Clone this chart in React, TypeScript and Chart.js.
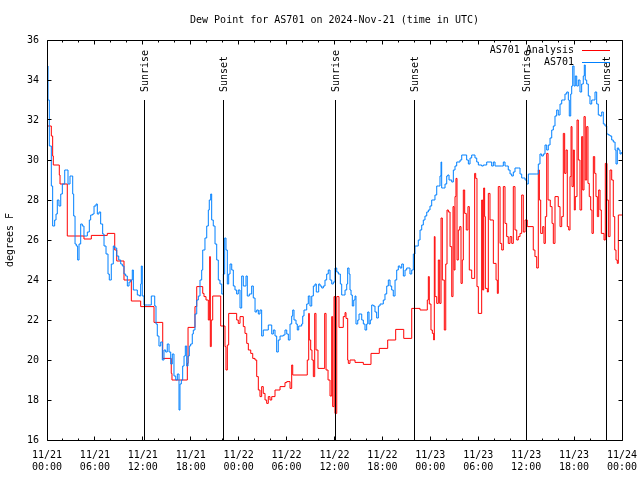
import React, { useEffect, useRef } from "react";
import { Chart, registerables } from "chart.js";

Chart.register(...registerables);

const FONT_FAMILY = '"DejaVu Sans Mono", "Liberation Mono", monospace';

const titleText = "Dew Point for AS701 on 2024-Nov-21 (time in UTC)";
const yAxisTitle = "degrees F";
const seriesLabels = ["AS701 Analysis", "AS701"];
const seriesColors = ["#ff0000", "#0080ff"];

const xTickDates = ["11/21", "11/21", "11/21", "11/21", "11/22", "11/22", "11/22", "11/22", "11/23", "11/23", "11/23", "11/23", "11/24"];
const xTickTimes = ["00:00", "06:00", "12:00", "18:00", "00:00", "06:00", "12:00", "18:00", "00:00", "06:00", "12:00", "18:00", "00:00"];
const yTickValues = [16, 18, 20, 22, 24, 26, 28, 30, 32, 34, 36];

// hours since 2024-11-21 00:00 UTC
const sunHours = [12.18, 22.06, 36.1, 46.0, 60.1, 70.04];
const sunLabels = ["Sunrise", "Sunset", "Sunrise", "Sunset", "Sunrise", "Sunset"];

// AS701 observations (hours since start, deg F)
const blueHours = [
  0.0, 0.13, 0.29, 0.54, 0.71, 0.96, 1.13, 1.29, 1.5, 1.72,
  1.92, 2.22, 2.47, 2.63, 2.88, 3.04, 3.22, 3.34, 3.51, 3.67,
  3.84, 4.01, 4.22, 4.42, 4.63, 4.88, 5.05, 5.3, 5.47, 5.72,
  5.89, 6.14, 6.3, 6.51, 6.72, 6.97, 7.14, 7.39, 7.64, 7.8,
  8.05, 8.3, 8.48, 8.73, 8.98, 9.23, 9.43, 9.64, 9.85, 10.06,
  10.27, 10.48, 10.68, 10.81, 11.06, 11.31, 11.56, 11.73, 11.81, 11.93,
  12.15, 12.56, 12.9, 13.06, 13.31, 13.49, 13.65, 13.81, 14.02, 14.24,
  14.44, 14.65, 14.86, 15.06, 15.28, 15.49, 15.69, 15.9, 16.12, 16.32,
  16.53, 16.65, 16.82, 16.99, 17.16, 17.32, 17.49, 17.66, 17.82, 17.99,
  18.19, 18.32, 18.53, 18.75, 18.95, 19.16, 19.37, 19.5, 19.78, 20.0,
  20.2, 20.32, 20.5, 20.62, 20.82, 21.04, 21.25, 21.45, 21.66, 21.88,
  22.08, 22.25, 22.41, 22.58, 22.75, 22.92, 23.13, 23.33, 23.54, 23.75,
  23.95, 24.17, 24.38, 24.58, 24.92, 25.08, 25.33, 25.63, 25.83, 26.05,
  26.26, 26.46, 26.67, 26.88, 27.08, 27.3, 27.71, 27.92, 28.14, 28.34,
  28.55, 28.76, 28.96, 29.18, 29.59, 29.8, 30.02, 30.22, 30.43, 30.64,
  30.77, 30.93, 31.18, 31.34, 31.52, 31.89, 32.02, 32.18, 32.52, 32.72,
  32.93, 33.15, 33.35, 33.56, 33.72, 34.02, 34.19, 34.4, 34.6, 34.81,
  35.02, 35.22, 35.44, 35.65, 35.85, 36.06, 36.28, 36.48, 36.73, 36.9,
  37.1, 37.32, 37.53, 37.65, 37.82, 37.94, 38.07, 38.23, 38.41, 38.57,
  38.69, 38.91, 39.07, 39.41, 39.61, 39.82, 40.03, 40.16, 40.32, 40.48,
  40.66, 40.86, 41.07, 41.28, 41.49, 41.7, 42.11, 42.32, 42.54, 42.74,
  42.95, 43.16, 43.36, 43.58, 43.79, 43.99, 44.2, 44.42, 44.62, 44.83,
  45.04, 45.45, 45.67, 45.87, 46.08, 46.49, 46.71, 46.92, 47.12, 47.33,
  47.55, 47.75, 47.96, 48.17, 48.58, 48.8, 49.0, 49.21, 49.34, 49.42,
  49.62, 49.84, 50.05, 50.18, 50.34, 50.68, 50.88, 51.09, 51.3, 51.72,
  51.93, 52.34, 52.55, 52.76, 52.97, 53.18, 53.59, 53.81, 54.01, 54.43,
  54.63, 55.06, 55.47, 55.68, 55.89, 56.1, 56.94, 57.14, 57.35, 57.56,
  57.76, 57.98, 58.19, 58.39, 58.6, 59.01, 59.23, 59.44, 59.64, 59.86,
  60.07, 60.27, 61.32, 61.52, 61.73, 61.94, 62.15, 62.36, 62.57, 62.77,
  62.99, 63.2, 63.4, 63.61, 63.82, 64.02, 64.24, 64.45, 64.65, 64.86,
  65.08, 65.28, 65.4, 65.58, 65.7, 65.83, 65.99, 66.15, 66.33, 66.53,
  66.74, 66.95, 67.15, 67.28, 67.4, 67.58, 67.78, 67.99, 68.21, 68.41,
  68.62, 68.83, 69.03, 69.25, 69.46, 69.66, 69.87, 70.09, 70.29, 70.5,
  70.71, 70.91, 71.13, 71.25, 71.41, 71.59, 71.75, 71.91,
];
const blueValues = [
  34.7, 33.0, 30.7, 28.7, 26.7, 27.0, 27.3, 28.0, 27.7, 28.3,
  28.8, 29.5, 29.5, 28.8, 29.2, 29.2, 28.3, 27.2, 25.8, 25.7,
  25.0, 25.8, 26.8, 26.7, 26.2, 26.2, 26.4, 27.0, 27.25, 27.3,
  27.7, 27.8, 27.3, 27.4, 26.8, 26.3, 25.7, 25.3, 24.3, 24.0,
  24.8, 25.7, 25.6, 25.2, 25.0, 24.8, 24.7, 24.3, 24.2, 23.7,
  23.9, 24.0, 24.5, 23.5, 23.5, 23.25, 23.2, 23.8, 24.7, 23.2,
  22.75, 22.75, 22.75, 23.2, 23.2, 22.7, 21.8, 21.2, 20.7, 20.9,
  20.0, 20.5, 20.4, 20.8, 20.4, 19.8, 20.3, 19.2, 19.0, 19.3,
  17.5, 18.8, 19.0, 19.7, 20.2, 20.7, 19.7, 20.2, 20.7, 20.8,
  21.3, 21.5, 22.3, 23.0, 23.2, 24.0, 24.5, 25.5, 26.1, 26.7,
  27.5, 28.0, 28.3, 27.0, 26.7, 25.8, 25.0, 24.0, 23.8, 23.3,
  24.3, 26.1, 25.5, 23.8, 24.3, 24.8, 24.5, 23.7, 23.5, 23.3,
  23.5, 22.6, 24.2, 23.7, 24.2, 23.2, 23.3, 23.7, 23.1, 22.4,
  22.5, 22.3, 22.5, 21.2, 21.5, 21.5, 21.75, 21.75, 21.3, 21.5,
  21.2, 20.4, 21.0, 21.2, 21.25, 21.5, 21.3, 21.0, 21.8, 22.2,
  22.5, 22.0, 21.8, 21.5, 21.7, 21.8, 22.2, 22.5, 22.8, 23.2,
  22.7, 23.2, 23.7, 23.8, 23.4, 23.8, 23.7, 23.6, 23.7, 24.0,
  24.3, 24.5, 24.0, 23.8, 23.9, 24.6, 24.4, 24.3, 23.8, 23.25,
  23.25, 23.5, 23.8, 24.6, 24.3, 23.5, 23.25, 22.7, 23.0, 23.2,
  21.8, 22.0, 22.3, 22.0, 21.8, 21.5, 21.8, 22.4, 21.8, 22.0,
  22.75, 22.7, 22.4, 22.1, 22.7, 22.8, 23.0, 23.3, 23.7, 24.0,
  23.7, 23.5, 23.2, 24.0, 24.5, 24.7, 24.6, 24.8, 24.2, 24.5,
  24.6, 24.3, 24.5, 25.3, 25.7, 26.0, 26.5, 26.75, 27.0, 27.2,
  27.4, 27.5, 27.7, 28.0, 28.25, 28.7, 28.7, 29.2, 29.9, 28.6,
  28.6, 28.8, 29.2, 29.25, 29.0, 28.9, 29.5, 29.7, 29.9, 30.0,
  30.25, 30.25, 30.0, 29.8, 30.1, 30.25, 30.1, 29.9, 29.75, 29.7,
  29.75, 29.9, 29.9, 29.7, 29.9, 29.7, 29.7, 29.9, 29.7, 29.7,
  29.5, 29.3, 29.2, 29.4, 29.6, 29.6, 29.3, 29.1, 29.1, 29.0,
  28.8, 29.3, 29.3, 29.8, 30.3, 30.2, 30.3, 30.75, 30.5, 30.75,
  31.1, 31.5, 31.7, 32.2, 32.5, 32.25, 32.8, 33.0, 33.0, 33.3,
  33.4, 33.0, 32.2, 33.3, 33.7, 34.7, 33.7, 34.2, 33.7, 34.0,
  33.4, 33.8, 34.2, 34.75, 34.0, 33.8, 33.2, 32.8, 33.0, 33.0,
  33.4, 32.8, 32.25, 32.2, 32.4, 31.8, 31.7, 31.3, 31.25, 31.2,
  31.0, 30.9, 30.5, 29.8, 30.6, 30.5, 30.3, 30.4,
];

// AS701 Analysis (step start hours, deg F)
const redHours = [
  0.0, 0.54, 0.71, 0.79, 1.54, 1.63, 2.54, 4.63, 5.55, 7.55,
  8.48, 8.73, 9.64, 10.56, 11.73, 13.4, 14.49, 15.56, 15.65, 17.57,
  17.66, 18.53, 18.75, 19.5, 19.66, 19.91, 20.2, 20.37, 20.45, 20.57,
  20.75, 21.75, 22.29, 22.41, 22.58, 22.75, 23.75, 23.95, 24.17, 24.58,
  24.79, 25.01, 25.21, 25.51, 25.76, 26.05, 26.26, 26.46, 26.67, 26.88,
  27.08, 27.3, 27.51, 27.71, 27.92, 28.14, 28.55, 29.18, 29.8, 30.02,
  30.43, 30.64, 30.77, 32.59, 32.77, 32.84, 33.02, 33.18, 33.35, 33.52,
  33.68, 33.93, 34.77, 34.94, 35.19, 35.44, 35.65, 35.77, 35.94, 36.06,
  36.28, 36.56, 37.1, 37.32, 37.44, 37.65, 37.73, 37.94, 38.57, 39.61,
  40.57, 41.61, 42.66, 43.66, 44.67, 45.67, 46.71, 47.62, 47.75, 47.87,
  48.08, 48.25, 48.42, 48.5, 48.59, 48.8, 49.0, 49.17, 49.34, 49.5,
  49.75, 49.93, 50.09, 50.26, 50.47, 50.68, 50.84, 50.97, 51.09, 51.21,
  51.34, 51.5, 51.68, 51.84, 52.0, 52.13, 52.3, 52.5, 52.71, 52.88,
  53.18, 53.55, 53.68, 53.84, 54.01, 54.43, 54.55, 54.68, 54.8, 54.89,
  55.14, 55.26, 55.47, 55.89, 56.23, 56.39, 56.51, 56.73, 56.94, 57.14,
  57.35, 57.56, 57.76, 57.98, 58.19, 58.39, 58.6, 58.82, 59.01, 59.23,
  59.44, 59.64, 59.86, 60.14, 60.89, 61.1, 61.32, 61.52, 61.65, 61.82,
  62.07, 62.23, 62.4, 62.57, 62.74, 63.02, 63.24, 63.4, 63.61, 64.02,
  64.24, 64.45, 64.65, 64.82, 64.99, 65.15, 65.33, 65.49, 65.62, 65.74,
  65.91, 66.03, 66.15, 66.37, 66.53, 66.74, 66.95, 67.08, 67.24, 67.4,
  67.58, 67.74, 67.9, 68.08, 68.24, 68.41, 68.58, 68.74, 68.91, 69.08,
  69.25, 69.41, 69.75, 69.91, 70.12, 70.29, 70.5, 70.71, 70.91, 71.09,
  71.25, 71.41, 71.54, 72.0,
];
const redValues = [
  31.7, 31.2, 30.2, 29.75, 29.25, 28.8, 26.2, 26.05, 26.23, 26.33,
  25.5, 24.95, 24.0, 22.95, 22.67, 21.88, 20.08, 19.33, 19.0, 19.83,
  21.63, 22.67, 23.67, 23.33, 23.17, 23.0, 22.0, 25.17, 20.67, 22.0,
  23.2, 21.7, 20.67, 19.5, 20.75, 22.33, 22.0, 21.83, 22.17, 21.67,
  21.33, 20.83, 20.5, 20.33, 20.08, 20.0, 19.17, 18.5, 18.17, 18.67,
  18.33, 18.0, 17.83, 18.17, 18.0, 18.17, 18.5, 18.67, 18.87, 18.92,
  18.58, 19.75, 19.25, 20.0, 22.33, 21.0, 20.5, 20.0, 19.17, 22.33,
  20.5, 19.58, 22.33, 19.5, 19.0, 18.2, 22.17, 17.67, 23.17, 17.33,
  23.17, 21.63, 22.17, 22.37, 22.08, 20.0, 19.83, 20.0, 19.88, 19.78,
  20.33, 20.58, 21.0, 21.53, 21.08, 22.58, 22.5, 23.0, 24.17, 22.8,
  21.5, 21.33, 21.0, 26.17, 23.17, 22.83, 25.0, 22.83, 27.1, 24.0,
  21.5, 24.8, 27.5, 27.4, 25.67, 23.17, 27.67, 24.5, 28.17, 29.08,
  25.0, 26.5, 26.67, 23.83, 25.0, 28.5, 27.33, 26.5, 27.67, 24.5,
  24.08, 29.33, 29.08, 23.67, 22.33, 28.0, 23.5, 28.6, 27.17, 23.58,
  23.4, 28.33, 27.0, 24.83, 24.0, 23.33, 28.67, 25.83, 25.5, 28.67,
  26.83, 26.17, 25.83, 26.17, 25.83, 28.67, 26.5, 26.0, 26.17, 26.33,
  28.25, 26.4, 27.0, 26.67, 25.5, 25.17, 24.6, 29.5, 28.0, 26.33,
  26.67, 25.83, 27.17, 30.33, 28.0, 27.67, 26.83, 25.83, 28.17, 27.67,
  26.67, 27.17, 31.33, 29.33, 30.5, 26.67, 26.5, 29.17, 31.67, 28.67,
  30.5, 27.5, 28.17, 32.0, 30.0, 27.5, 31.17, 28.5, 32.17, 29.0,
  31.67, 28.83, 28.17, 27.5, 26.33, 30.17, 29.33, 28.17, 27.17, 28.5,
  27.5, 26.33, 26.0, 29.83, 28.0, 26.17, 29.5, 29.0, 27.17, 25.5,
  25.0, 24.83, 27.25, 27.25,
];

const overlayPlugin = {
  id: "gnuplotOverlay",
  afterDatasetsDraw(chart: any) {
    const { ctx, chartArea: a, scales } = chart;
    const xs = scales.x;
    const ys = scales.y;
    const L = Math.floor(a.left) + 0.5;
    const R = Math.floor(a.right) + 0.5;
    const T = Math.floor(a.top) + 0.5;
    const B = Math.floor(a.bottom) + 0.5;
    ctx.save();
    ctx.strokeStyle = "#000";
    ctx.fillStyle = "#000";
    ctx.lineWidth = 1;
    ctx.font = `10px ${FONT_FAMILY}`;

    // sunrise / sunset markers
    sunHours.forEach((h, i) => {
      const px = Math.floor(xs.getPixelForValue(h)) + 0.5;
      ctx.beginPath();
      ctx.moveTo(px, a.top + 60);
      ctx.lineTo(px, a.bottom);
      ctx.stroke();
      ctx.save();
      ctx.translate(px + 1, a.top + 52);
      ctx.rotate(-Math.PI / 2);
      ctx.textAlign = "left";
      ctx.textBaseline = "middle";
      ctx.fillText(sunLabels[i], 0, 0);
      ctx.restore();
    });

    // border
    ctx.beginPath();
    ctx.rect(L, T, R - L, B - T);
    ctx.stroke();

    // x ticks (major every 6 h, minor every 2 h), mirrored on top
    ctx.beginPath();
    for (let h = 0; h <= 72; h += 2) {
      const px = Math.floor(xs.getPixelForValue(h)) + 0.5;
      const len = h % 6 === 0 ? 4 : 2;
      ctx.moveTo(px, B);
      ctx.lineTo(px, B - len);
      ctx.moveTo(px, T);
      ctx.lineTo(px, T + len);
    }
    // y ticks, mirrored on right
    yTickValues.forEach((v) => {
      const py = Math.floor(ys.getPixelForValue(v)) + 0.5;
      ctx.moveTo(L, py);
      ctx.lineTo(L + 4, py);
      ctx.moveTo(R, py);
      ctx.lineTo(R - 4, py);
    });
    ctx.stroke();

    // legend
    const legX = a.right - 48;
    seriesLabels.forEach((lab, i) => {
      const ly = a.top + 10 + i * 12;
      ctx.fillStyle = "#000";
      ctx.textAlign = "right";
      ctx.textBaseline = "middle";
      ctx.fillText(lab, legX, ly);
      ctx.strokeStyle = seriesColors[i];
      ctx.beginPath();
      ctx.moveTo(legX + 8, Math.floor(ly) + 0.5);
      ctx.lineTo(legX + 36, Math.floor(ly) + 0.5);
      ctx.stroke();
    });

    // title
    ctx.fillStyle = "#000";
    ctx.textAlign = "center";
    ctx.textBaseline = "middle";
    ctx.fillText(titleText, (a.left + a.right) / 2, 20);

    // y axis title
    ctx.save();
    ctx.translate(10, (a.top + a.bottom) / 2);
    ctx.rotate(-Math.PI / 2);
    ctx.textAlign = "center";
    ctx.textBaseline = "middle";
    ctx.fillText(yAxisTitle, 0, 0);
    ctx.restore();

    ctx.restore();
  },
};

export default function App() {
  const canvasRef = useRef<HTMLCanvasElement | null>(null);

  useEffect(() => {
    const canvas = canvasRef.current;
    if (!canvas) return;
    const redData = redHours.map((h, i) => ({ x: h, y: redValues[i] }));
    const blueData = blueHours.map((h, i) => ({ x: h, y: blueValues[i] }));

    const chart = new Chart(canvas, {
      type: "line",
      data: {
        datasets: [
          {
            label: seriesLabels[0],
            data: redData,
            borderColor: seriesColors[0],
            borderWidth: 1,
            pointRadius: 0,
            stepped: true,
            fill: false,
            order: 2,
          },
          {
            label: seriesLabels[1],
            data: blueData,
            borderColor: seriesColors[1],
            borderWidth: 1,
            pointRadius: 0,
            stepped: true,
            fill: false,
            order: 1,
          },
        ],
      },
      options: {
        animation: false,
        responsive: false,
        devicePixelRatio: 1,
        parsing: true,
        layout: { padding: { top: 40, right: 18, left: 0, bottom: 0 } },
        plugins: {
          legend: { display: false },
          title: { display: false },
          tooltip: { enabled: false },
        },
        scales: {
          x: {
            type: "linear",
            min: 0,
            max: 72,
            grid: { display: false, drawTicks: false },
            border: { display: false },
            ticks: {
              stepSize: 6,
              autoSkip: false,
              maxRotation: 0,
              minRotation: 0,
              padding: 9,
              color: "#000",
              font: { family: FONT_FAMILY, size: 10, lineHeight: 1.2 },
              callback: (value: any) => {
                const i = Math.round(Number(value) / 6);
                return [xTickDates[i], xTickTimes[i]];
              },
            },
            afterFit: (scale: any) => {
              scale.height = 40;
              scale.paddingLeft = 0;
              scale.paddingRight = 0;
            },
          },
          y: {
            type: "linear",
            min: 16,
            max: 36,
            grid: { display: false, drawTicks: false },
            border: { display: false },
            ticks: {
              stepSize: 2,
              padding: 8,
              color: "#000",
              font: { family: FONT_FAMILY, size: 10 },
              callback: (value: any) => String(value),
            },
            afterFit: (scale: any) => {
              scale.width = 47;
              scale.paddingTop = 0;
              scale.paddingBottom = 0;
            },
          },
        },
      },
      plugins: [overlayPlugin],
    });

    return () => {
      chart.destroy();
    };
  }, []);

  return (
    <div style={{ position: "fixed", left: 0, top: 0, width: 640, height: 480, background: "#fff" }}>
      <canvas ref={canvasRef} width={640} height={480} style={{ display: "block", width: 640, height: 480 }} />
    </div>
  );
}
